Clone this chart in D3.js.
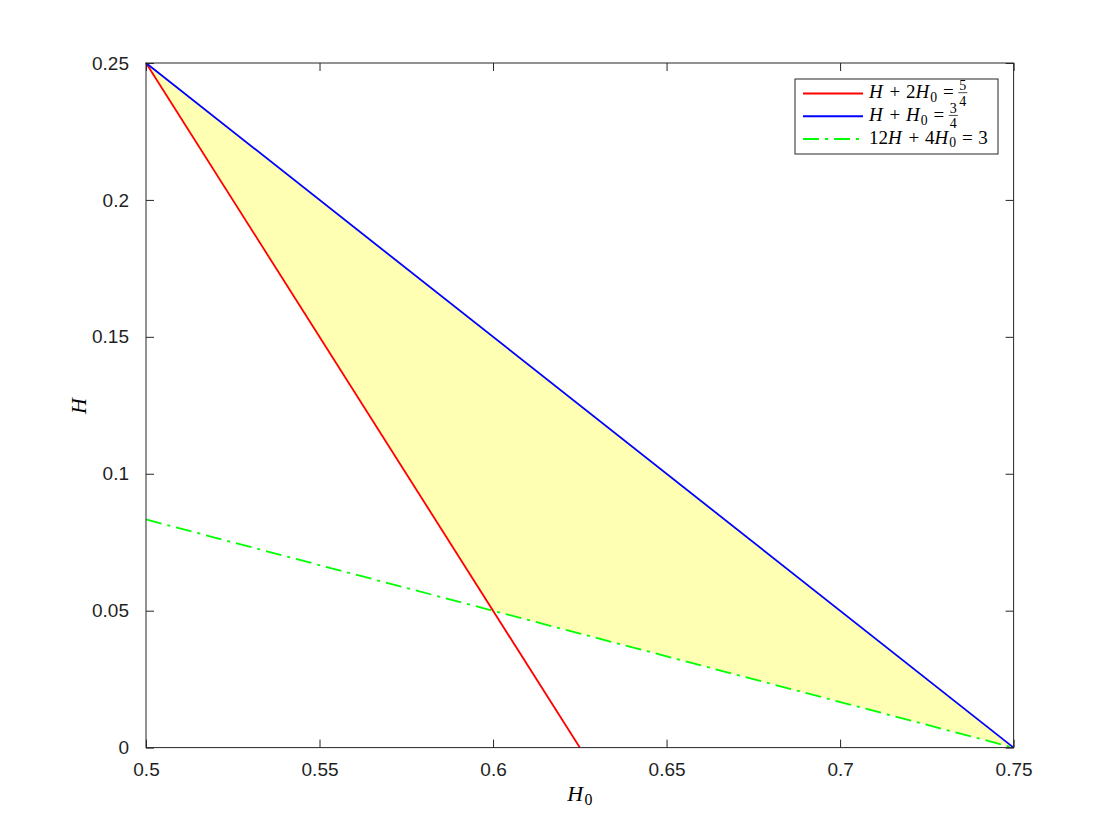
<!DOCTYPE html>
<html>
<head>
<meta charset="utf-8">
<script src="https://cdn.jsdelivr.net/npm/d3@7"></script>
<style>
  body { margin: 0; background: #fff; }
  .tick text { font-family: "Liberation Sans", Arial, sans-serif; font-size: 19px; fill: #1f1f1f; }
  .math { font-family: "Liberation Serif", "DejaVu Serif", serif; fill: #000; }
</style>
</head>
<body>
<div id="chart"></div>
<script>
/* ===== Data ===== */
const xTicks = [0.5, 0.55, 0.6, 0.65, 0.7, 0.75];
const yTicks = [0, 0.05, 0.1, 0.15, 0.2, 0.25];

// feasible region (H0, H)
const regionH0 = [0.5, 0.75, 0.6];
const regionH = [0.25, 0, 0.05];

// H + 2H0 = 5/4
const redH0 = [0.5, 0.625];
const redH = [0.25, 0];
// H + H0 = 3/4
const blueH0 = [0.5, 0.75];
const blueH = [0.25, 0];
// 12H + 4H0 = 3
const greenH0 = [0.5, 0.75];
const greenH = [0.0833, 0];

// legend labels as pieces: i = italic, s = subscript, f = fraction [num, den]
const legendLabels = [
    [{t: "H", i: true}, {op: "+"}, {t: "2"}, {t: "H", i: true}, {t: "0", s: true}, {op: "="}, {f: ["5", "4"]}],
    [{t: "H", i: true}, {op: "+"}, {t: "H", i: true}, {t: "0", s: true}, {op: "="}, {f: ["3", "4"]}],
    [{t: "12"}, {t: "H", i: true}, {op: "+"}, {t: "4"}, {t: "H", i: true}, {t: "0", s: true}, {op: "="}, {t: "3"}]
];
const legendColors = ["#ff0000", "#0000ff", "#00ff00"];
const legendDash = [null, null, "16,6,3,6"];

/* ===== Layout ===== */
const width = 1120, height = 840;
const plot = {left: 146, right: 1013.6, top: 63, bottom: 747.6};

const svg = d3.select("#chart").append("svg")
              .attr("width", width)
              .attr("height", height);

const x = d3.scaleLinear().domain([0.5, 0.75]).range([plot.left, plot.right]);
const y = d3.scaleLinear().domain([0, 0.25]).range([plot.bottom, plot.top]);

const zip = (a, b) => a.map((v, i) => [v, b[i]]);
const line = d3.line().x(d => x(d[0])).y(d => y(d[1]));

// shaded region
svg.append("path")
   .datum(zip(regionH0, regionH))
   .attr("d", d => line(d) + "Z")
   .attr("fill", "#ffffb3")
   .attr("stroke", "none");

const series = [
    {h0: redH0, h: redH, color: legendColors[0], dash: legendDash[0]},
    {h0: blueH0, h: blueH, color: legendColors[1], dash: legendDash[1]},
    {h0: greenH0, h: greenH, color: legendColors[2], dash: legendDash[2]}
];
// draw green first so the solid lines sit on top
[series[2], series[0], series[1]].forEach(s => {
    svg.append("path")
       .datum(zip(s.h0, s.h))
       .attr("d", line)
       .attr("fill", "none")
       .attr("stroke", s.color)
       .attr("stroke-width", 1.8)
       .attr("stroke-dasharray", s.dash);
});

// axes (ticks inside, box on)
const tickLen = 8;
const fmt = d3.format("");
svg.append("g").attr("transform", `translate(0,${plot.bottom})`)
   .call(d3.axisBottom(x).tickValues(xTicks).tickFormat(fmt).tickSizeInner(-tickLen).tickSizeOuter(0).tickPadding(15))
   .call(g => g.select(".domain").remove());
svg.append("g").attr("transform", `translate(0,${plot.top})`)
   .call(d3.axisTop(x).tickValues(xTicks).tickFormat("").tickSizeInner(-tickLen).tickSizeOuter(0))
   .call(g => g.select(".domain").remove());
svg.append("g").attr("transform", `translate(${plot.left},0)`)
   .call(d3.axisLeft(y).tickValues(yTicks).tickFormat(fmt).tickSizeInner(-tickLen).tickSizeOuter(0).tickPadding(17))
   .call(g => g.select(".domain").remove());
svg.append("g").attr("transform", `translate(${plot.right},0)`)
   .call(d3.axisRight(y).tickValues(yTicks).tickFormat("").tickSizeInner(-tickLen).tickSizeOuter(0))
   .call(g => g.select(".domain").remove());
svg.selectAll(".tick line").attr("stroke", "#262626");

svg.append("rect")
   .attr("x", plot.left).attr("y", plot.top)
   .attr("width", plot.right - plot.left).attr("height", plot.bottom - plot.top)
   .attr("fill", "none")
   .attr("stroke", "#262626")
   .attr("stroke-width", 1);

// math text writer: returns the end x
function writeMath(g, pieces, x0, baseline, size) {
    let cx = x0;
    pieces.forEach(p => {
        if (p.op) {
            cx += size * 0.3;
            const t = g.append("text").attr("class", "math").attr("x", cx).attr("y", baseline)
                       .attr("font-size", size).text(p.op);
            cx += t.node().getComputedTextLength() + size * 0.3;
        } else if (p.f) {
            const fs = size * 0.74;
            const num = g.append("text").attr("class", "math").attr("x", cx).attr("y", baseline - size * 0.4)
                         .attr("font-size", fs).text(p.f[0]);
            const den = g.append("text").attr("class", "math").attr("x", cx).attr("y", baseline + size * 0.4)
                         .attr("font-size", fs).text(p.f[1]);
            const w = Math.max(num.node().getComputedTextLength(), den.node().getComputedTextLength());
            g.append("line").attr("x1", cx - 1).attr("x2", cx + w + 1)
             .attr("y1", baseline - size * 0.28).attr("y2", baseline - size * 0.28)
             .attr("stroke", "#000").attr("stroke-width", 0.7);
            cx += w + 2;
        } else {
            const fs = p.s ? size * 0.72 : size;
            const t = g.append("text").attr("class", "math").attr("x", cx)
                       .attr("y", p.s ? baseline + size * 0.2 : baseline)
                       .attr("font-size", fs)
                       .attr("font-style", p.i ? "italic" : "normal")
                       .text(p.t);
            cx += t.node().getComputedTextLength() + (p.i ? size * 0.06 : 0);
        }
    });
    return cx;
}

// axis labels
const xl = svg.append("g");
const xEnd = writeMath(xl, [{t: "H", i: true}, {t: "0", s: true}], 0, 801, 22);
xl.attr("transform", `translate(${(plot.left + plot.right) / 2 - xEnd / 2},0)`);

const yl = svg.append("g");
const yEnd = writeMath(yl, [{t: "H", i: true}], 0, 0, 22);
yl.attr("transform", `translate(86,${(plot.top + plot.bottom) / 2 + yEnd / 2}) rotate(-90)`);

// legend
const legend = {left: 795, top: 79, right: 998, bottom: 154};
const lg = svg.append("g");
lg.append("rect")
  .attr("x", legend.left).attr("y", legend.top)
  .attr("width", legend.right - legend.left).attr("height", legend.bottom - legend.top)
  .attr("fill", "#fff").attr("stroke", "#262626").attr("stroke-width", 1);
const rowY = d3.scalePoint().domain(d3.range(legendLabels.length)).range([93.5, 139]);
legendLabels.forEach((pieces, i) => {
    lg.append("line")
      .attr("x1", 803).attr("x2", 863)
      .attr("y1", rowY(i)).attr("y2", rowY(i))
      .attr("stroke", legendColors[i])
      .attr("stroke-width", 1.8)
      .attr("stroke-dasharray", legendDash[i]);
    writeMath(lg, pieces, 869, rowY(i) + 4.5, 19);
});
</script>
</body>
</html>
